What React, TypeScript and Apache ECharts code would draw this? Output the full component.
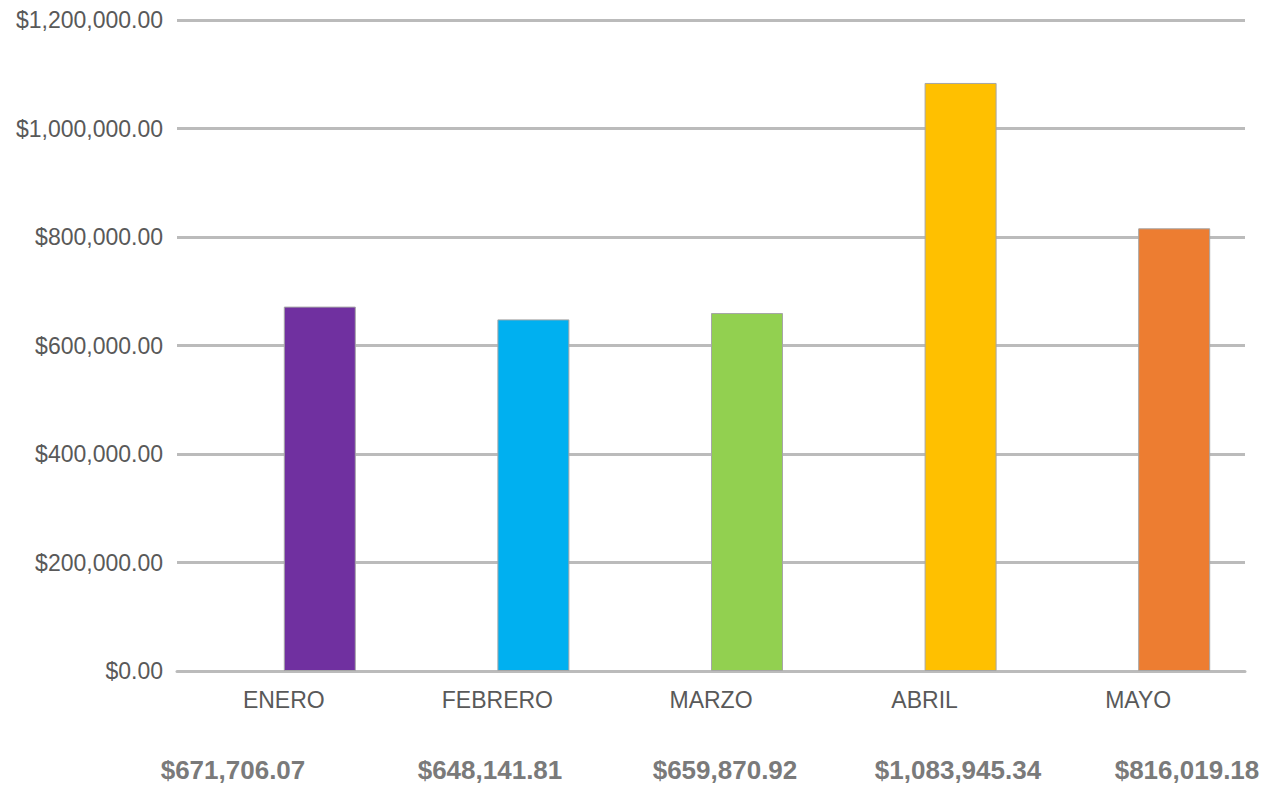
import React, { useEffect, useRef } from "react";
import * as echarts from "echarts";

const categories = ["ENERO", "FEBRERO", "MARZO", "ABRIL", "MAYO"];
const values = [671706.07, 648141.81, 659870.92, 1083945.34, 816019.18];
const barColors = ["#7030A0", "#00B0F0", "#92D050", "#FFC000", "#ED7D31"];
const totalLabels = ["$671,706.07", "$648,141.81", "$659,870.92", "$1,083,945.34", "$816,019.18"];
const totalLabelX = [233, 490, 725, 958, 1187];

const fmt = (v: number) =>
  "$" + v.toLocaleString("en-US", { minimumFractionDigits: 2, maximumFractionDigits: 2 });

export default function App() {
  const ref = useRef<HTMLDivElement>(null);
  useEffect(() => {
    document.body.style.margin = "0";
    const chart = echarts.init(ref.current!, null, { renderer: "svg" });
    chart.setOption({
      animation: false,
      backgroundColor: "#ffffff",
      grid: { left: 177, right: 28, top: 20, bottom: 115, containLabel: false },
      xAxis: {
        type: "category",
        data: categories,
        axisLine: { show: true, lineStyle: { color: "#BBBBBB", width: 3 } },
        axisTick: { show: false },
        axisLabel: {
          color: "#595959",
          fontFamily: "Liberation Sans, Arial, sans-serif",
          fontSize: 23,
          margin: 17,
        },
      },
      yAxis: {
        type: "value",
        min: 0,
        max: 1200000,
        interval: 200000,
        axisLine: { show: false },
        axisTick: { show: false },
        splitLine: { lineStyle: { color: "#BBBBBB", width: 3 } },
        axisLabel: {
          formatter: (v: number) => fmt(v),
          color: "#595959",
          fontFamily: "Liberation Sans, Arial, sans-serif",
          fontSize: 23,
          margin: 14,
        },
      },
      series: [
        {
          type: "bar",
          data: categories.map(() => null),
          barWidth: 72,
          barGap: "0%",
        },
        {
          type: "bar",
          barWidth: 72,
          barGap: "0%",
          data: values.map((v, i) => ({
            value: v,
            itemStyle: { color: barColors[i], borderColor: "#A6A6A6", borderWidth: 1 },
          })),
        },
      ],
      graphic: totalLabels.map((t, i) => ({
        type: "text",
        x: totalLabelX[i],
        y: 770,
        style: {
          text: t,
          fill: "#7A7A7A",
          font: "bold 26px 'Liberation Sans', Arial, sans-serif",
          textAlign: "center",
          textVerticalAlign: "middle",
        },
      })),
    });
    return () => chart.dispose();
  }, []);
  return <div ref={ref} style={{ width: 1273, height: 786 }} />;
}
